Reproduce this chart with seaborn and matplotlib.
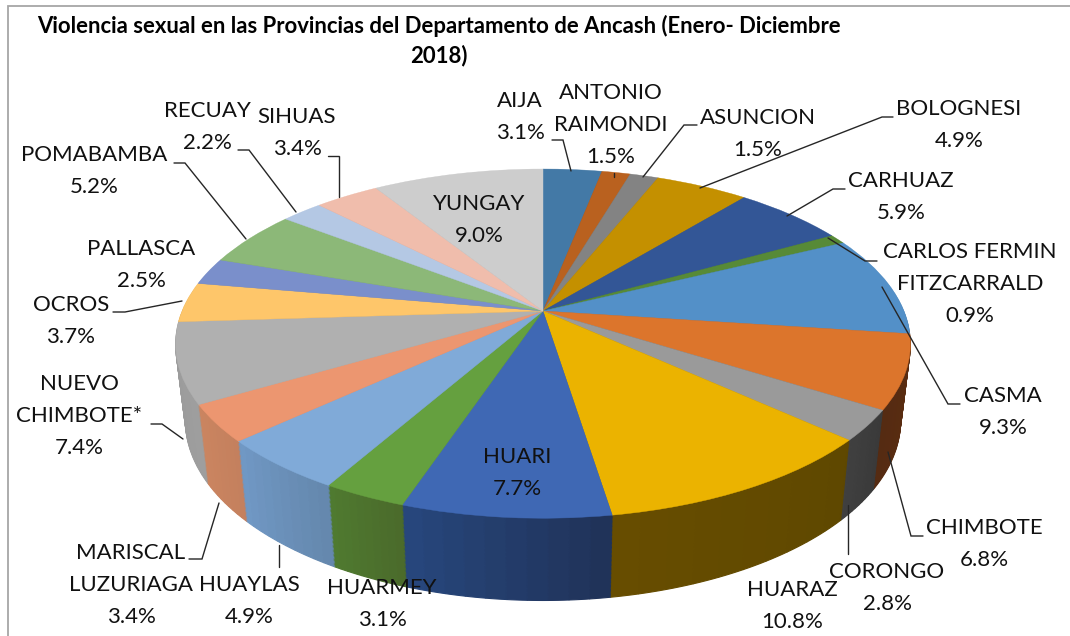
import numpy as np
import matplotlib
matplotlib.use("Agg")
import matplotlib.pyplot as plt
from matplotlib.colors import to_rgb
from matplotlib.transforms import Transform
import seaborn as sns

# ---- data -------------------------------------------------------------
provinces = ["AIJA", "ANTONIO\nRAIMONDI", "ASUNCION", "BOLOGNESI", "CARHUAZ",
             "CARLOS FERMIN\nFITZCARRALD", "CASMA", "CHIMBOTE", "CORONGO", "HUARAZ",
             "HUARI", "HUARMEY", "HUAYLAS", "MARISCAL\nLUZURIAGA", "NUEVO\nCHIMBOTE*",
             "OCROS", "PALLASCA", "POMABAMBA", "RECUAY", "SIHUAS", "YUNGAY"]
shares = [3.1, 1.5, 1.5, 4.9, 5.9, 0.9, 9.3, 6.8, 2.8, 10.8,
          7.7, 3.1, 4.9, 3.4, 7.4, 3.7, 2.5, 5.2, 2.2, 3.4, 9.0]
title = "Violencia sexual en las Provincias del Departamento de Ancash (Enero- Diciembre\n2018)"

# ---- styles -----------------------------------------------------------
top_colors = ["#4379a6", "#b9611f", "#838383", "#c49000", "#335696", "#578a37", "#5390c8",
              "#dc752c", "#9a9a9a", "#ebb300", "#3f68b4", "#65a03f", "#80aad8", "#ec9670",
              "#b0b0b0", "#fec66a", "#7a8fcb", "#8cb878", "#b4c8e4", "#f0bdac", "#cdcdcd"]
wall_start = ["#2f5575", "#7f4315", "#5a5a5a", "#876400", "#233b68", "#3c5f26", "#3a648c",
              "#5c2d10", "#3a3a3a", "#5f4800", "#203359", "#4b6b2b", "#6588ae", "#c4805e",
              "#9e9e9e", "#b08a48", "#55648e", "#628054", "#7e8ca0", "#a88478", "#8f8f8f"]
wall_end = ["#2f5575", "#7f4315", "#5a5a5a", "#876400", "#233b68", "#3c5f26", "#3a648c",
            "#552b12", "#404040", "#674d00", "#27467c", "#4f7a30", "#7098c4", "#cb8560",
            "#9a9a9a", "#b08a48", "#55648e", "#628054", "#7e8ca0", "#a88478", "#8f8f8f"]

# label centres in pixels (x, y of the text block)
label_xy = [(520, 117), (611, 125), (758, 134), (959, 125), (901, 197), (970, 284), (1003, 412),
            (984, 544), (887, 588), (792, 606), (517, 473), (382, 604), (249, 601), (131, 585),
            (79, 416), (71, 321), (141, 265), (94, 171), (207, 127), (297, 133), (479, 220)]
leaders = [[(552, 140), (563, 140), (571, 171)],
           [(614, 173), (614, 177)],
           [(697, 125), (684, 125), (643, 177)],
           [(893, 117), (882, 117), (700, 188)],
           [(845, 189), (833, 189), (787, 216)],
           [(877, 261), (865, 261), (828, 238)],
           [(960, 404), (948, 404), (882, 287)],
           [(923, 536), (911, 536), (888, 452)],
           [(848, 554), (848, 505)],
           [(279, 567), (279, 545)],
           [(189, 559), (202, 559), (219, 503)],
           [(151, 424), (162, 424), (183, 439)],
           [(113, 312), (125, 312), (182, 301)],
           [(174, 163), (185, 163), (246, 239)],
           [(238, 150), (249, 150), (296, 212)],
           [(328, 156), (339, 156), (339, 197)]]


class TiltedDisc(Transform):
    """Perspective projection of the unit pie on to the page, t = depth 0..1."""
    input_dims = 2
    output_dims = 2
    is_separable = False
    has_inverse = False

    def __init__(self, t=0.0):
        super().__init__()
        self.t = t

    def transform_non_affine(self, values):
        v = np.asarray(values, dtype=float)
        d = 1 + 0.187 * v[:, 1]
        X = 361 * v[:, 0] / d * (1 - 0.027 * self.t)
        Y = 168.5 * v[:, 1] / d * (1 + 0.03 * self.t) - 76 * self.t
        return np.column_stack([543 + X, 311 - Y])


sns.set_theme(style="white")
plt.rcParams["font.family"] = ["Lato", "DejaVu Sans"]

fig = plt.figure(figsize=(10.7, 6.36), dpi=100, facecolor="white")
ax = fig.add_axes([0, 0, 1, 1])


def draw_disc(values, colors, t, lw):
    wedges, _ = ax.pie(values, colors=colors, startangle=90, counterclock=False)
    tr = TiltedDisc(t) + ax.transData
    for w in wedges:
        w.set_transform(tr)
        w.set_edgecolor(w.get_facecolor())
        w.set_linewidth(lw)


# side wall: stacked pies from the bottom disc upward, shaded along the rim
n_sub = 10
sub_values = np.repeat(np.array(shares) / n_sub, n_sub)
wall_colors = []
for a, b in zip(wall_start, wall_end):
    a, b = np.array(to_rgb(a)), np.array(to_rgb(b))
    wall_colors += [tuple(a + (b - a) * f) for f in np.linspace(0, 1, n_sub)]
for t in np.linspace(1, 0, 64)[:-1]:
    draw_disc(sub_values, wall_colors, t, 0.8)

# top face
draw_disc(shares, sns.color_palette(top_colors), 0.0, 0.3)

ax.set_aspect("auto")
ax.set_xlim(0, 1070)
ax.set_ylim(636, 0)
ax.axis("off")

# frame (only left and top edges fall inside the picture)
ax.plot([7.5, 7.5, 1070], [636, 5.5, 5.5], color="#a6a6a6", lw=1.3, solid_joinstyle="miter")

for pts in leaders:
    xs, ys = zip(*pts)
    ax.plot(xs, ys, color="#262626", lw=1.0, solid_joinstyle="miter")

for name, val, (x, y) in zip(provinces, shares, label_xy):
    ax.text(x, y, f"{name}\n{val:.1f}%", ha="center", va="center", fontsize=16,
            color="#111111", linespacing=1.72, zorder=5)

ax.text(439, 41, title, ha="center", va="center", fontsize=15.95, fontweight="bold",
        color="black", linespacing=1.44, zorder=5)

fig.savefig("out.png", dpi=100, facecolor="white")
